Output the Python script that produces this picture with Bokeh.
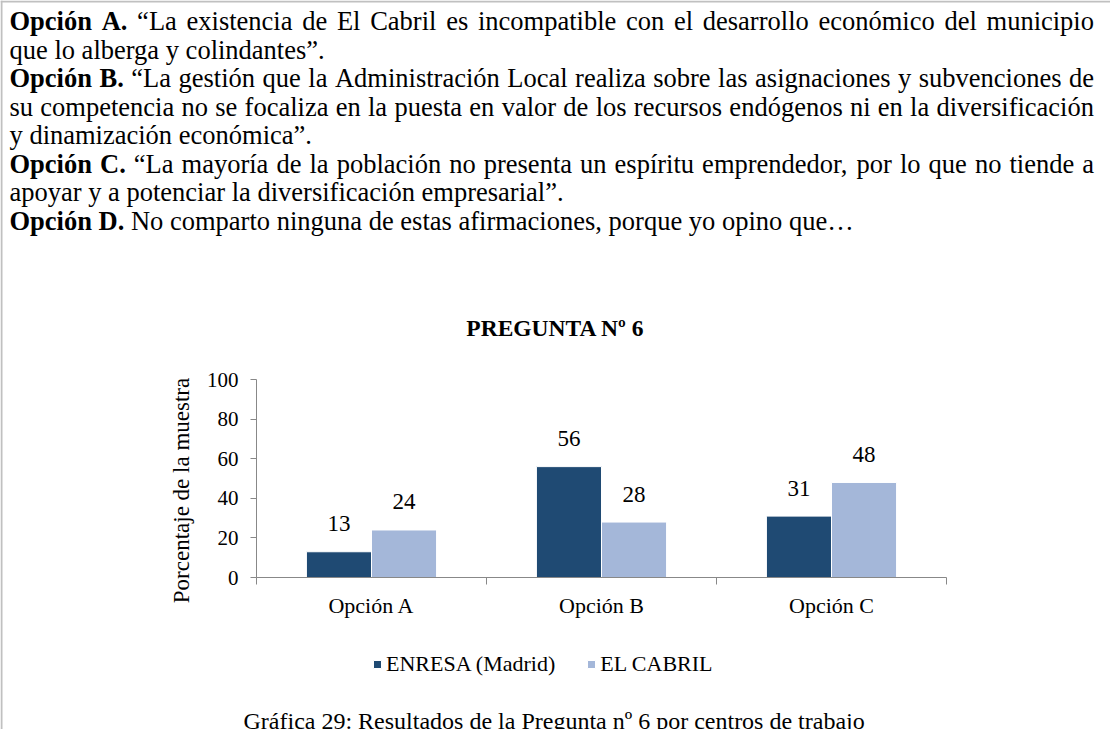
import math
from bokeh.plotting import figure
from bokeh.models import (ColumnDataSource, Range1d, Legend, LegendItem, FixedTicker, LinearAxis)
from bokeh.transform import dodge
from bokeh.core.properties import value
from bokeh.embed import file_html
from bokeh.resources import INLINE

# ---------------- data ----------------
categories = ["Opción A", "Opción B", "Opción C"]
series_names = ["ENRESA (Madrid)", "EL CABRIL"]
enresa = [13, 56, 31]
cabril = [24, 28, 48]
y_ticks = [0, 20, 40, 60, 80, 100]
chart_title = "PREGUNTA Nº 6"
y_label = "Porcentaje de la muestra"
caption = "Gráfica 29: Resultados de la Pregunta nº 6 por centros de trabajo"

# paragraph lines: (justified?, [(style, text), ...])
paragraph_lines = [
    (True, [("b", "Opción A."), ("r", "“La existencia de El Cabril es incompatible con el desarrollo económico del municipio")]),
    (False, [("r", "que lo alberga y colindantes”.")]),
    (True, [("b", "Opción B."), ("r", "“La gestión que la Administración Local realiza sobre las asignaciones y subvenciones de")]),
    (True, [("r", "su competencia no se focaliza en la puesta en valor de los recursos endógenos ni en la diversificación")]),
    (False, [("r", "y dinamización económica”.")]),
    (True, [("b", "Opción C."), ("r", "“La mayoría de la población no presenta un espíritu emprendedor, por lo que no tiende a")]),
    (False, [("r", "apoyar y a potenciar la diversificación empresarial”.")]),
    (False, [("b", "Opción D."), ("r", "No comparto ninguna de estas afirmaciones, porque yo opino que…")]),
]

DARK = "#1F4A73"
LIGHT = "#A4B7D9"
AXIS = "#888888"
BORDER = "#C0C0C0"
FONT = "Liberation Serif"

# ---------------- font metrics (Times / Liberation Serif, per 1000 em) ----------------
REG_W = {' ': 250, '.': 250, ',': 250, ':': 278, '(': 333, ')': 333, '“': 444, '”': 444,
         '…': 1000, 'º': 310, 'á': 444, 'é': 444, 'í': 278, 'ó': 500, 'ú': 500, 'ñ': 500}
for ch in "0123456789":
    REG_W[ch] = 500
REG_W.update(dict(zip("ABCDEFGHIJKLMNOPQRSTUVWXYZ",
                      [722, 667, 667, 722, 611, 556, 722, 722, 333, 389, 722, 611, 889,
                       722, 722, 556, 722, 667, 556, 611, 722, 722, 944, 722, 722, 611])))
REG_W.update(dict(zip("abcdefghijklmnopqrstuvwxyz",
                      [444, 500, 444, 500, 444, 333, 500, 500, 278, 278, 500, 278, 778,
                       500, 500, 500, 500, 333, 389, 278, 500, 500, 722, 500, 500, 444])))
BOLD_W = {'O': 778, 'p': 556, 'c': 444, 'i': 278, 'ó': 500, 'n': 556, 'A': 722, 'B': 667,
          'C': 722, 'D': 722, '.': 250, ' ': 250}

PARA_FS = 26.5


def tw(s, style):
    table = BOLD_W if style == "b" else REG_W
    return sum(table.get(ch, 500) for ch in s) * PARA_FS / 1000.0


# ---------------- page geometry ----------------
W, H = 1110, 729
FL, FR, FT, FB = 256, 946, 379, 577      # plot area of the chart on the page
ncat = len(categories)
centers = [i + 0.5 for i in range(ncat)]
xs = (FR - FL) / ncat                    # px per category
ys = (FB - FT) / 100.0                   # px per percentage point

p = figure(width=W, height=H, output_backend="svg", toolbar_location=None,
           x_range=Range1d(-FL / xs, (W - FL) / xs),
           y_range=Range1d(-(H - FB) / ys, FB / ys),
           min_border=0, x_axis_location=None, y_axis_location=None,
           background_fill_color="white", border_fill_color="white")
p.outline_line_color = None
p.grid.visible = False
p.extra_x_ranges = {"px": Range1d(0, W)}
p.extra_y_ranges = {"px": Range1d(H, 0)}

# ---------------- axes ----------------
yax = LinearAxis(fixed_location=0, bounds=(0, 100), ticker=FixedTicker(ticks=y_ticks))
yax.minor_tick_line_color = None
yax.major_tick_in = 0
yax.major_tick_out = 6
yax.axis_line_color = AXIS
yax.major_tick_line_color = AXIS
yax.major_label_text_font = FONT
yax.major_label_text_font_size = "21px"
yax.major_label_text_color = "black"
yax.major_label_standoff = 12
p.add_layout(yax, "left")

xax = LinearAxis(fixed_location=0, bounds=(0, ncat),
                 ticker=FixedTicker(ticks=centers, minor_ticks=list(range(ncat + 1))))
xax.major_label_overrides = {c: cat for c, cat in zip(centers, categories)}
xax.axis_line_color = AXIS
xax.major_tick_line_color = None
xax.major_tick_in = 0
xax.major_tick_out = 0
xax.minor_tick_line_color = AXIS
xax.minor_tick_in = 0
xax.minor_tick_out = 7
xax.major_label_text_font = FONT
xax.major_label_text_font_size = "22px"
xax.major_label_text_color = "black"
xax.major_label_standoff = 8
p.add_layout(xax, "below")

# ---------------- bars + value labels ----------------
src = ColumnDataSource(dict(xc=centers, enresa=enresa, cabril=cabril,
                            enresa_lbl=[str(v) for v in enresa],
                            cabril_lbl=[str(v) for v in cabril]))
BW = 0.283
r1 = p.vbar(x=dodge("xc", -BW / 2), top="enresa", width=BW, source=src,
            fill_color=DARK, line_color="white", line_width=1)
r2 = p.vbar(x=dodge("xc", BW / 2), top="cabril", width=BW, source=src,
            fill_color=LIGHT, line_color="white", line_width=1)
p.text(x=dodge("xc", -BW / 2), y="enresa", text="enresa_lbl", source=src,
       text_font=value(FONT), text_font_size="23px", text_align="center",
       text_baseline="alphabetic", y_offset=-28, text_color="black")
p.text(x=dodge("xc", BW / 2), y="cabril", text="cabril_lbl", source=src,
       text_font=value(FONT), text_font_size="23px", text_align="center",
       text_baseline="alphabetic", y_offset=-28, text_color="black")

# ---------------- legend ----------------
legend = Legend(items=[LegendItem(label=series_names[0], renderers=[r1]),
                       LegendItem(label=series_names[1], renderers=[r2])],
                orientation="horizontal", location=(372, 52),
                glyph_width=10, glyph_height=10, label_standoff=4, spacing=31,
                padding=0, margin=0, border_line_color=None, background_fill_alpha=0,
                label_text_font=FONT, label_text_font_size="22px", label_text_color="black")
p.add_layout(legend)

# ---------------- page texts (pixel coordinates) ----------------
PX = dict(x_range_name="px", y_range_name="px")

# box borders (left and top)
p.segment(x0=[1.0, 0], y0=[0, 1.0], x1=[1.0, W], y1=[H, 1.0], line_color=BORDER,
          line_width=2, **PX)

X0, X1 = 9.0, 1093.5
BASE0, PITCH = 20.5, 28.5
bold_d = dict(x=[], y=[], text=[])
reg_d = dict(x=[], y=[], text=[])
for k, (justify, segs) in enumerate(paragraph_lines):
    y = BASE0 + PITCH * k
    if justify:
        words = [(st, w) for st, t in segs for w in t.split(" ")]
        widths = [tw(w, st) for st, w in words]
        gap = (X1 - X0 - sum(widths)) / (len(words) - 1)
        x = X0
        for (st, w), wd in zip(words, widths):
            d = bold_d if st == "b" else reg_d
            d["x"].append(x); d["y"].append(y); d["text"].append(w)
            x += wd + gap
    else:
        x = X0
        for st, t in segs:
            d = bold_d if st == "b" else reg_d
            d["x"].append(x); d["y"].append(y); d["text"].append(t)
            x += tw(t, st) + tw(" ", "r")

for d, style in ((bold_d, "bold"), (reg_d, "normal")):
    p.text(x="x", y="y", text="text", source=ColumnDataSource(d),
           text_font=value(FONT), text_font_size=f"{PARA_FS}px", text_font_style=style,
           text_align="left", text_baseline="alphabetic", text_color="black", **PX)

p.text(x=[555], y=[327], text=[chart_title], text_font=value(FONT), text_font_size="23.5px",
       text_font_style="bold", text_align="center", text_baseline="alphabetic",
       text_color="black", **PX)

p.text(x=[181], y=[490], text=[y_label], angle=math.pi / 2, text_font=value(FONT),
       text_font_size="23px", text_align="center", text_baseline="alphabetic",
       text_color="black", **PX)

p.text(x=[243], y=[720.5], text=[caption], text_font=value(FONT), text_font_size="24px",
       text_align="left", text_baseline="alphabetic", text_color="black", **PX)

open("out.html", "w", encoding="utf-8").write(file_html(p, INLINE))
